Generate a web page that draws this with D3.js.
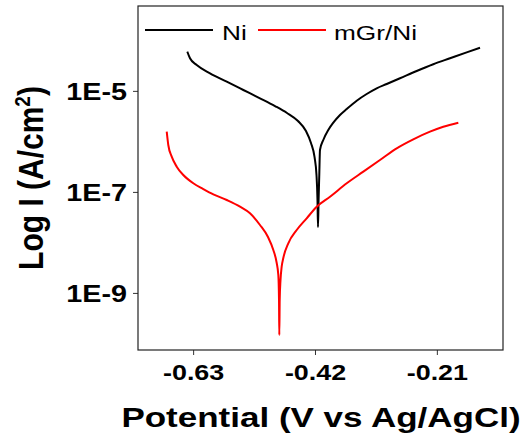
<!DOCTYPE html>
<meta charset="utf-8">
<script src="https://d3js.org/d3.v7.min.js"></script>
<style>
  body { margin: 0; background: #fff; }
  text { font-family: "Liberation Sans", Arial, sans-serif; }
</style>
<div id="my_dataviz"></div>
<script>

// potentials (V vs Ag/AgCl) and log10 current density
var niV = [-0.6400, -0.6354, -0.6238, -0.6009, -0.5721, -0.5435, -0.5148, -0.4889, -0.4682,
  -0.4493, -0.4355, -0.4269, -0.4208, -0.4174, -0.4157, -0.4148,
  -0.4138, -0.4126, -0.4114, -0.4057, -0.3971, -0.3884, -0.3769, -0.3653, -0.3481,
  -0.3309, -0.3137, -0.2964, -0.2735, -0.2447, -0.2161, -0.1873, -0.1586, -0.1356];
var niLogI = [-4.225, -4.355, -4.488, -4.652, -4.819, -4.983, -5.147, -5.300, -5.438,
  -5.597, -5.795, -6.032, -6.309, -6.666, -7.161, -7.695,
  -7.161, -6.666, -6.171, -5.973, -5.775, -5.630, -5.478, -5.359, -5.195,
  -5.062, -4.949, -4.864, -4.751, -4.607, -4.474, -4.355, -4.237, -4.146];

var grV = [-0.6755, -0.6728, -0.6669, -0.6583, -0.6469, -0.6297, -0.6125, -0.5952, -0.5721,
  -0.5492, -0.5320, -0.5148, -0.5010, -0.4918, -0.4863, -0.4832, -0.4820, -0.4815,
  -0.4808, -0.4794, -0.4774, -0.4746, -0.4660, -0.4515, -0.4343, -0.4170, -0.3941,
  -0.3653, -0.3367, -0.3080, -0.2792, -0.2506, -0.2218, -0.1989, -0.1730];
var grLogI = [-5.808, -6.072, -6.303, -6.501, -6.666, -6.830, -6.943, -7.048, -7.161,
  -7.293, -7.424, -7.655, -7.893, -8.150, -8.388, -8.645, -9.140, -9.833,
  -9.140, -8.744, -8.481, -8.309, -8.018, -7.755, -7.523, -7.293, -7.095,
  -6.830, -6.600, -6.369, -6.137, -5.959, -5.808, -5.710, -5.630];

var xTicks = [-0.63, -0.42, -0.21];
var xTickLabels = ["-0.63", "-0.42", "-0.21"];
var yTicks = [1e-5, 1e-7, 1e-9];
var yTickLabels = ["1E-5", "1E-7", "1E-9"];
var seriesNames = ["Ni", "mGr/Ni"];
var seriesColors = ["#000000", "#ff0000"];

var margin = {top: 6, right: 20, bottom: 86, left: 138},
    width = 503 - margin.left,
    height = 350 - margin.top;
var stretch = 1.25;   // the source glyphs are wider than plain Arial

var svg = d3.select("#my_dataviz")
  .append("svg")
    .attr("width", 523)
    .attr("height", 436)
  .append("g")
    .attr("transform", "translate(" + margin.left + "," + margin.top + ")");

var x = d3.scaleLinear()
  .domain([-0.725, -0.096])
  .range([0, width]);

var y = d3.scaleLog()
  .domain([Math.pow(10, -10.13), Math.pow(10, -3.32)])
  .range([height, 0]);

// X axis
var xAxis = svg.append("g")
  .attr("transform", "translate(0," + height + ")")
  .call(d3.axisBottom(x).tickValues(xTicks).tickSize(5).tickSizeOuter(0)
    .tickFormat(function(d, i) { return xTickLabels[i]; }));
xAxis.select(".domain").remove();
xAxis.selectAll(".tick line").attr("stroke", "#333");
xAxis.selectAll("text")
  .attr("y", 14.7)
  .attr("font-size", 21.5)
  .attr("font-weight", "bold")
  .attr("fill", "#000")
  .attr("transform", "scale(" + stretch + ",1)");

// Y axis
var yAxis = svg.append("g")
  .call(d3.axisLeft(y).tickValues(yTicks).tickSize(5).tickSizeOuter(0)
    .tickFormat(function(d, i) { return yTickLabels[i]; }));
yAxis.select(".domain").remove();
yAxis.selectAll(".tick line").attr("stroke", "#333");
yAxis.selectAll("text")
  .attr("x", -11 / stretch)
  .attr("dy", "0.36em")
  .attr("font-size", 23)
  .attr("font-weight", "bold")
  .attr("fill", "#000")
  .attr("transform", "scale(" + stretch + ",1)");

// frame
svg.append("rect")
  .attr("width", width)
  .attr("height", height)
  .attr("fill", "none")
  .attr("stroke", "#222")
  .attr("stroke-width", 1.2);

// curves
var line = d3.line()
  .x(function(d) { return x(d[0]); })
  .y(function(d) { return y(Math.pow(10, d[1])); })
  .curve(d3.curveMonotoneX);

var series = [d3.zip(niV, niLogI), d3.zip(grV, grLogI)];
series.forEach(function(s, i) {
  svg.append("path")
    .datum(s)
    .attr("fill", "none")
    .attr("stroke", seriesColors[i])
    .attr("stroke-width", 2)
    .attr("stroke-linejoin", "round")
    .attr("d", line);
});

// legend
var legendX = [7, 120];
var legendText = [84, 196];
seriesNames.forEach(function(name, i) {
  svg.append("line")
    .attr("x1", legendX[i]).attr("x2", legendX[i] + 68)
    .attr("y1", 24).attr("y2", 24)
    .attr("stroke", seriesColors[i])
    .attr("stroke-width", 2);
  svg.append("text")
    .attr("transform", "translate(" + legendText[i] + ",34) scale(" + stretch + ",1)")
    .attr("font-size", 21)
    .attr("fill", "#000")
    .text(name);
});

// axis titles
svg.append("text")
  .attr("transform", "translate(" + (321 - margin.left) + "," + (427 - margin.top) + ") scale(" + stretch + ",1)")
  .attr("text-anchor", "middle")
  .attr("font-size", 28)
  .attr("font-weight", "bold")
  .text("Potential (V vs Ag/AgCl)");

var yTitle = svg.append("text")
  .attr("transform", "translate(" + (43 - margin.left) + "," + (178 - margin.top) + ") scale(1.16,1) rotate(-90)")
  .attr("text-anchor", "middle")
  .attr("font-size", 30)
  .attr("font-weight", "bold");
yTitle.append("tspan").text("Log I (A/cm");
yTitle.append("tspan").attr("dy", -11).attr("font-size", 19).text("2");
yTitle.append("tspan").attr("dy", 11).text(")");

</script>
